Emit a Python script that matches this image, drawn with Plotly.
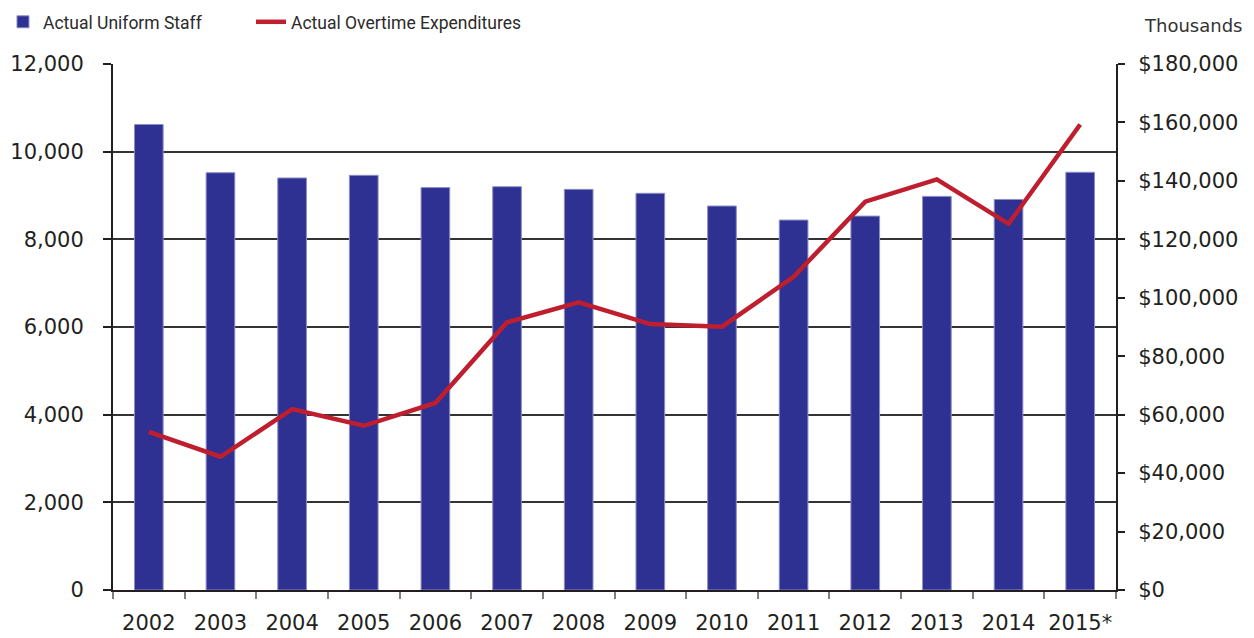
import plotly.graph_objects as go

years = ["2002", "2003", "2004", "2005", "2006", "2007", "2008", "2009",
         "2010", "2011", "2012", "2013", "2014", "2015*"]
uniform_staff = [10620, 9520, 9400, 9460, 9180, 9200, 9140, 9050,
                 8760, 8440, 8530, 8980, 8910, 9530]
overtime_thousands = [54100, 45600, 61900, 56200, 64000, 91600, 98400, 91000,
                      90100, 107200, 132900, 140500, 125300, 159300]

left_ticks = [0, 2000, 4000, 6000, 8000, 10000, 12000]
right_ticks = list(range(0, 180001, 20000))
right_labels = ["${:,}".format(v) for v in right_ticks]

font_main = "DejaVu Sans"
font_leg = "Roboto, Liberation Sans, sans-serif"
ink = "#231F20"

fig = go.Figure()
fig.add_trace(go.Bar(
    x=years, y=uniform_staff, name="Actual Uniform Staff",
    marker=dict(color="#2E3192", line=dict(color="#8C8FC6", width=1)),
    yaxis="y", legend="legend",
))
fig.add_trace(go.Scatter(
    x=years, y=overtime_thousands, name="Actual Overtime Expenditures",
    mode="lines", line=dict(color="#BE1E2D", width=4.5),
    yaxis="y2", legend="legend2",
))

leg_common = dict(
    orientation="h", xanchor="left", yanchor="middle", y=1.08,
    font=dict(family=font_leg, size=17.5, color="#2b2b2b"),
    bgcolor="rgba(0,0,0,0)",
)

fig.update_layout(
    width=1238, height=630,
    margin=dict(l=105, r=130, t=56, b=48, autoexpand=False),
    paper_bgcolor="white", plot_bgcolor="white",
    bargap=0.6,
    showlegend=True,
    legend=dict(x=-0.1097, **leg_common),
    legend2=dict(x=0.1376, **leg_common),
    xaxis=dict(
        type="category", range=[-0.5, 13.5],
        showline=True, linecolor=ink, linewidth=2,
        ticks="outside", tickson="boundaries", ticklen=7, tickcolor="#808080", tickwidth=1.5,
        ticklabelstandoff=13, tickangle=0,
        tickfont=dict(family=font_main, size=21, color=ink),
        showgrid=False, zeroline=False,
    ),
    yaxis=dict(
        range=[0, 12000], tickvals=left_ticks, tickformat=",",
        showline=True, linecolor=ink, linewidth=2, mirror=False,
        ticks="outside", ticklen=8, tickcolor=ink, tickwidth=1.5,
        ticklabelstandoff=15,
        showgrid=True, gridcolor="#333333", gridwidth=1.5,
        zeroline=False,
        tickfont=dict(family=font_main, size=21, color=ink),
    ),
    yaxis2=dict(
        range=[0, 180000], tickvals=right_ticks, ticktext=right_labels,
        overlaying="y", side="right",
        showline=True, linecolor=ink, linewidth=2,
        ticks="outside", ticklen=7, tickcolor=ink, tickwidth=1.5,
        ticklabelstandoff=9,
        showgrid=False, zeroline=False,
        tickfont=dict(family=font_main, size=21, color=ink),
    ),
    annotations=[dict(
        text="Thousands", xref="paper", yref="paper", x=1.128, y=1.05,
        xanchor="right", yanchor="bottom", showarrow=False,
        font=dict(family=font_main, size=18, color="#333333"),
    )],
)

fig.write_html("out.html")
